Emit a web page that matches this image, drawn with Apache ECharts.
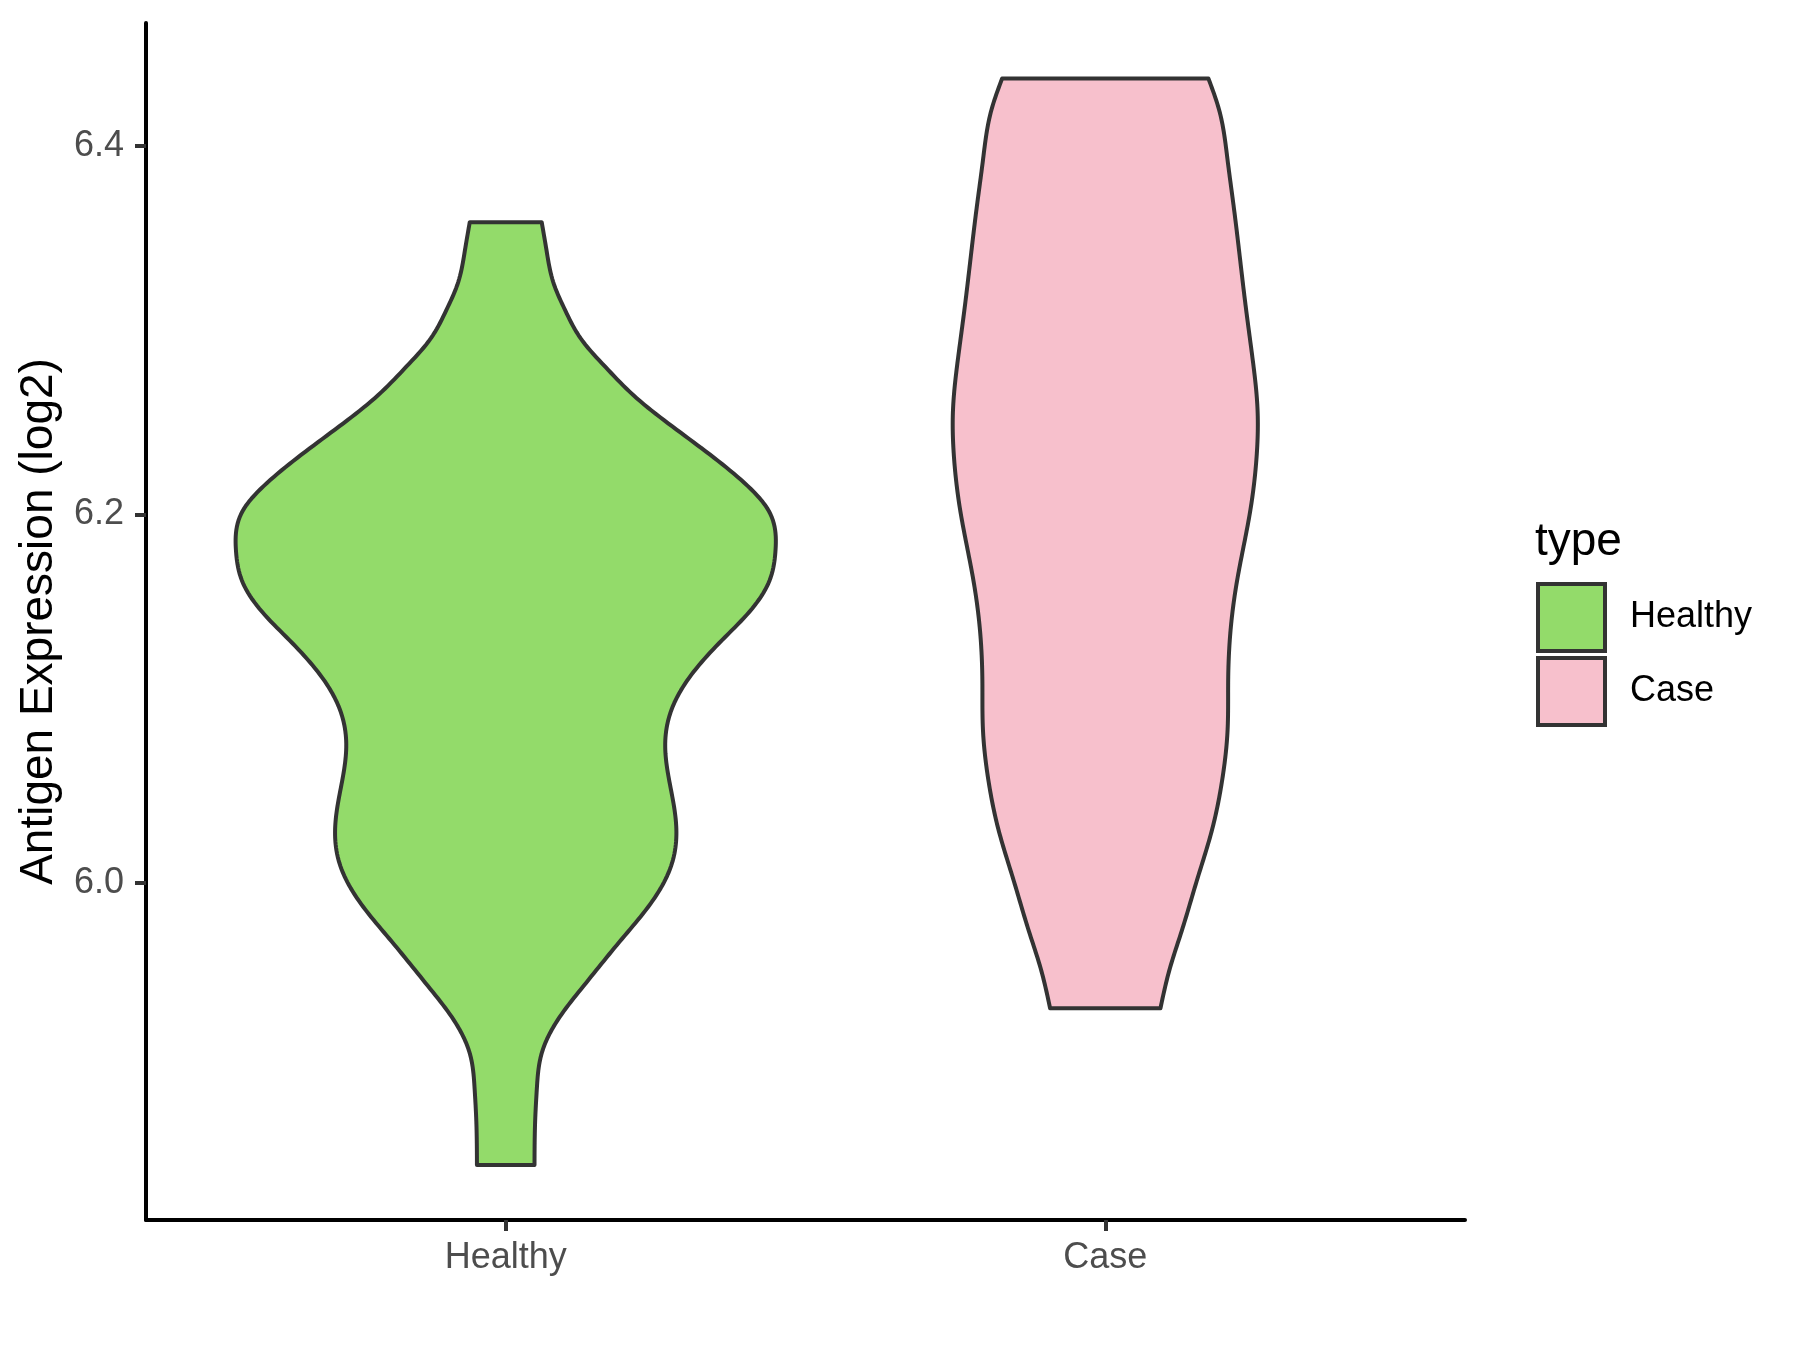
<!DOCTYPE html>
<html><head><meta charset="utf-8">
<script src="https://cdn.jsdelivr.net/npm/echarts@6/dist/echarts.min.js"></script>
<style>html,body{margin:0;padding:0;background:#fff}#c{width:1800px;height:1350px}</style>
</head><body><div id="c"></div>
<script>
// ---- data ----
const categories = ['Healthy', 'Case'];
const legendTitle = 'type';
const yAxisTitle = 'Antigen Expression (log2)';
const yTicks = [6.0, 6.2, 6.4];

// violin outline: y value and half-width (in category units)
const healthyValues = [5.8470, 5.8702, 5.8889, 5.9076, 5.9263, 5.9450, 5.9674, 5.9899, 6.0104, 6.0328,
  6.0534, 6.0758, 6.0945, 6.1132, 6.1319, 6.1445, 6.1626, 6.1807, 6.2024, 6.2169,
  6.2332, 6.2495, 6.2639, 6.2802, 6.2947, 6.3110, 6.3254, 6.3435, 6.3587];
const healthyHalfWidths = [0.048, 0.049, 0.052, 0.060, 0.088, 0.132, 0.188, 0.244, 0.277, 0.284,
  0.274, 0.266, 0.277, 0.310, 0.361, 0.399, 0.438, 0.450, 0.438, 0.399,
  0.338, 0.271, 0.216, 0.166, 0.127, 0.099, 0.080, 0.068, 0.060];

const caseValues = [5.9320, 5.9528, 5.9745, 6.0016, 6.0288, 6.0559, 6.0830, 6.1102, 6.1373, 6.1644,
  6.2024, 6.2296, 6.2567, 6.2838, 6.3110, 6.3381, 6.3652, 6.3924, 6.4195, 6.4367];
const caseHalfWidths = [0.092, 0.107, 0.128, 0.153, 0.178, 0.195, 0.204, 0.205, 0.209, 0.220,
  0.242, 0.252, 0.254, 0.246, 0.235, 0.225, 0.215, 0.204, 0.190, 0.172];

const colors = ['#93DB6A', '#F7C0CC'];
const outline = '#333333';
const FONT = '"Liberation Sans", Arial, sans-serif';

// natural cubic spline of half-width as a function of value (drawing smoothness only)
function naturalSpline(xs, ys) {
  const n = xs.length, h = [], a = [], l = [1], mu = [0], z = [0], c = new Array(n).fill(0), b = [], d = [];
  for (let i = 0; i < n - 1; i++) h.push(xs[i + 1] - xs[i]);
  for (let i = 1; i < n - 1; i++) a[i] = 3 / h[i] * (ys[i + 1] - ys[i]) - 3 / h[i - 1] * (ys[i] - ys[i - 1]);
  for (let i = 1; i < n - 1; i++) {
    l[i] = 2 * (xs[i + 1] - xs[i - 1]) - h[i - 1] * mu[i - 1];
    mu[i] = h[i] / l[i];
    z[i] = (a[i] - h[i - 1] * z[i - 1]) / l[i];
  }
  for (let j = n - 2; j >= 0; j--) {
    c[j] = (j === 0 ? 0 : z[j] - mu[j] * c[j + 1]);
    b[j] = (ys[j + 1] - ys[j]) / h[j] - h[j] * (c[j + 1] + 2 * c[j]) / 3;
    d[j] = (c[j + 1] - c[j]) / (3 * h[j]);
  }
  return function (x) {
    let j = 0;
    while (j < n - 2 && x > xs[j + 1]) j++;
    const t = x - xs[j];
    return ys[j] + b[j] * t + c[j] * t * t + d[j] * t * t * t;
  };
}

function makeRender(vals, widths, color) {
  const f = naturalSpline(vals, widths);
  return function (params, api) {
    const center = api.value(0);
    const lo = vals[0], hi = vals[vals.length - 1], N = 300;
    const right = [], left = [];
    for (let k = 0; k <= N; k++) {
      const v = lo + (hi - lo) * k / N;
      const w = f(v);
      right.push(api.coord([center + w, v]));
      left.push(api.coord([center - w, v]));
    }
    const pts = right.concat(left.reverse());
    return {
      type: 'polygon',
      shape: { points: pts },
      style: { fill: color, stroke: outline, lineWidth: 4, lineJoin: 'round' }
    };
  };
}

const chart = echarts.init(document.getElementById('c'), null, { renderer: 'canvas' });
chart.setOption({
  backgroundColor: '#ffffff',
  animation: false,
  textStyle: { fontFamily: FONT },
  title: {
    text: legendTitle,
    left: 1530, top: 514,
    textStyle: { fontSize: 46, fontWeight: 'normal', color: '#000', fontFamily: FONT }
  },
  legend: {
    orient: 'vertical',
    left: 1531, top: 577,
    itemWidth: 67, itemHeight: 67, itemGap: 3,
    textStyle: { fontSize: 36, color: '#000', fontFamily: FONT, padding: [0, 0, 0, 20] },
    data: categories.map((c, i) => ({
      name: c, icon: 'rect',
      itemStyle: { color: colors[i], borderColor: outline, borderWidth: 4 }
    }))
  },
  grid: { left: 146, right: 335, top: 23, bottom: 130 },
  xAxis: {
    type: 'value', min: 0.4, max: 2.6,
    splitLine: { show: false },
    axisLine: { onZero: false, lineStyle: { color: '#000', width: 4 } },
    axisTick: { customValues: [1, 2], length: 11, lineStyle: { color: outline, width: 4 } },
    axisLabel: {
      customValues: [1, 2],
      formatter: v => categories[Math.round(v) - 1],
      fontSize: 36, color: '#4D4D4D', margin: 20, fontFamily: FONT
    }
  },
  yAxis: {
    type: 'value', min: 5.8171, max: 6.4668,
    splitLine: { show: false },
    axisLine: { onZero: false, lineStyle: { color: '#000', width: 4 } },
    axisTick: { customValues: yTicks, length: 11, lineStyle: { color: outline, width: 4 } },
    axisLabel: {
      customValues: yTicks,
      formatter: v => v.toFixed(1),
      fontSize: 36, color: '#4D4D4D', margin: 22, fontFamily: FONT
    },
    name: yAxisTitle,
    nameLocation: 'middle',
    nameGap: 84,
    nameRotate: 90,
    nameTextStyle: { fontSize: 46, color: '#000', fontFamily: FONT }
  },
  series: [
    {
      name: categories[0], type: 'custom',
      renderItem: makeRender(healthyValues, healthyHalfWidths, colors[0]),
      itemStyle: { color: colors[0], borderColor: outline, borderWidth: 4 },
      data: [[1, 6.1]]
    },
    {
      name: categories[1], type: 'custom',
      renderItem: makeRender(caseValues, caseHalfWidths, colors[1]),
      itemStyle: { color: colors[1], borderColor: outline, borderWidth: 4 },
      data: [[2, 6.2]]
    }
  ]
});
</script>
</body></html>
